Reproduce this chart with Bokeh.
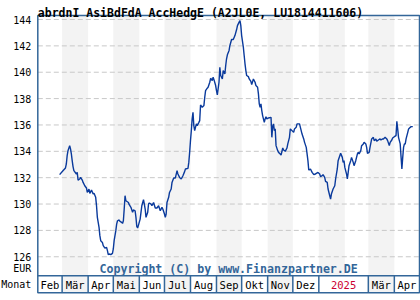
import pandas as pd
from bokeh.plotting import figure
from bokeh.models import Range1d, ColumnDataSource
from bokeh.core.properties import value
from bokeh.embed import file_html
from bokeh.resources import INLINE

title_text = "abrdnI AsiBdFdA AccHedgE (A2JL0E, LU1814411606)"
copyright_text = "Copyright (C) by www.Finanzpartner.DE"
start_date = "2024-02-01"

# calendar days after start_date
days_since_start = [
    26, 30, 33, 34, 35, 36, 38, 39, 40, 41,
    42, 43, 46, 47, 48, 50, 51, 53, 54, 56,
    58, 59, 61, 62, 64, 66, 67, 69, 70, 71,
    72, 73, 74, 75, 77, 78, 80, 82, 83, 84,
    85, 87, 89, 90, 91, 93, 94, 95, 97, 98,
    100, 101, 102, 103, 104, 105, 108, 109, 111, 113,
    114, 116, 117, 118, 119, 120, 122, 123, 124, 126,
    127, 128, 129, 131, 132, 133, 135, 136, 138, 140,
    142, 144, 146, 148, 149, 151, 152, 153, 154, 156,
    157, 159, 160, 162, 164, 166, 167, 169, 171, 173,
    175, 176, 179, 180, 181, 182, 183, 184, 185, 186,
    187, 189, 190, 192, 193, 194, 196, 198, 199, 200,
    202, 203, 205, 206, 208, 209, 210, 212, 213, 214,
    216, 217, 218, 220, 221, 223, 224, 225, 226, 228,
    229, 231, 233, 235, 237, 238, 240, 241, 242, 243,
    245, 246, 247, 248, 249, 251, 252, 254, 255, 257,
    259, 260, 262, 263, 264, 265, 266, 267, 268, 270,
    271, 272, 273, 275, 278, 279, 280, 281, 282, 283,
    284, 286, 287, 289, 290, 292, 293, 295, 297, 298,
    300, 301, 303, 305, 306, 308, 309, 312, 313, 315,
    317, 318, 320, 321, 322, 323, 325, 327, 329, 331,
    332, 334, 336, 337, 339, 340, 342, 343, 345, 346,
    348, 349, 350, 352, 354, 355, 357, 358, 360, 361,
    363, 364, 365, 366, 368, 369, 370, 371, 373, 374,
    376, 377, 379, 381, 382, 383, 385, 386, 388, 389,
    391, 392, 393, 395, 396, 398, 400, 401, 403, 404,
    406, 408, 409, 411, 412, 414, 416, 417, 419, 420,
    422, 423, 425, 427, 428, 429, 430, 432, 433, 434,
    435, 436, 437, 438, 439, 441, 442, 444, 445, 447,
]

price_eur = [
    132.23, 132.53, 132.74, 133.04, 133.67, 134.05, 134.43, 134.18, 133.80, 133.29,
    132.84, 132.53, 132.28, 132.40, 131.82, 131.90, 132.02, 131.82, 131.64, 131.39,
    131.22, 130.88, 131.14, 130.81, 131.06, 130.76, 130.82, 130.51, 129.87, 128.99,
    128.61, 128.23, 127.60, 127.22, 127.09, 126.84, 126.66, 126.71, 126.46, 126.16,
    126.21, 126.16, 126.26, 126.59, 127.22, 127.98, 128.48, 128.73, 128.79, 128.68,
    128.61, 128.53, 128.73, 129.62, 130.63, 130.25, 130.12, 129.95, 129.75, 129.37,
    129.55, 129.49, 128.99, 128.30, 128.18, 128.40, 128.86, 129.37, 129.87, 130.33,
    130.00, 129.62, 128.99, 129.37, 130.00, 130.08, 130.00, 129.87, 130.12, 129.70,
    129.70, 129.87, 129.49, 129.75, 129.62, 129.24, 128.99, 129.24, 130.12, 130.51,
    130.88, 131.14, 131.64, 131.98, 131.98, 132.53, 132.28, 132.02, 131.90, 132.15,
    132.46, 132.66, 132.71, 133.16, 133.92, 134.81, 135.57, 136.46, 136.96, 135.95,
    135.57, 136.08, 135.95, 136.20, 136.33, 137.52, 137.34, 137.47, 138.10, 138.61,
    138.79, 138.86, 139.24, 139.54, 139.37, 139.62, 139.44, 138.99, 138.61, 138.28,
    139.24, 140.38, 139.75, 139.49, 140.12, 139.88, 140.51, 141.02, 141.32, 141.65,
    142.03, 142.48, 142.48, 142.78, 143.24, 143.54, 143.80, 143.92, 143.54, 142.78,
    141.90, 141.27, 140.64, 140.13, 139.75, 139.67, 139.49, 139.31, 139.06, 139.49,
    139.24, 138.99, 138.86, 138.36, 137.60, 137.34, 137.60, 137.09, 136.71, 136.20,
    136.46, 136.63, 136.46, 136.53, 136.58, 135.06, 135.90, 136.08, 135.57, 135.70,
    134.43, 134.05, 133.92, 133.80, 133.72, 134.25, 134.10, 134.00, 134.25, 134.56,
    135.06, 135.70, 135.57, 135.44, 135.70, 135.82, 136.08, 136.08, 135.82, 135.31,
    134.94, 134.68, 134.30, 133.80, 133.29, 132.58, 132.66, 132.40, 132.23, 132.28,
    132.33, 132.40, 132.28, 132.08, 132.15, 132.23, 132.02, 131.72, 131.64, 131.14,
    130.63, 130.38, 130.76, 131.14, 131.39, 131.90, 132.66, 133.29, 133.67, 133.85,
    133.54, 133.16, 133.29, 132.78, 132.28, 131.90, 132.40, 132.91, 133.29, 133.54,
    133.16, 132.91, 133.29, 133.80, 133.92, 133.80, 134.05, 134.43, 134.56, 134.68,
    134.56, 134.30, 133.85, 133.92, 134.30, 134.94, 135.06, 134.81, 134.94, 134.76,
    134.86, 134.94, 134.86, 134.94, 134.94, 135.06, 134.94, 134.81, 134.43, 134.68,
    134.86, 135.01, 135.11, 135.19, 136.28, 135.70, 135.06, 134.56, 133.60, 132.66,
    133.54, 134.30, 134.56, 134.56, 134.94, 135.44, 135.70, 135.82, 135.87, 135.87,
]

y_ticks = [126, 128, 130, 132, 134, 136, 138, 140, 142, 144]
unit_label = "EUR"
row_label = "Monat"

month_labels = ["Feb", "Mär", "Apr", "Mai", "Jun", "Jul", "Aug", "Sep",
                "Okt", "Nov", "Dez", "2025", "Mär", "Apr"]
month_starts = ["2024-02-01", "2024-03-01", "2024-04-01", "2024-05-01",
                "2024-06-01", "2024-07-01", "2024-08-01", "2024-09-01",
                "2024-10-01", "2024-11-01", "2024-12-01", "2025-01-01",
                "2025-03-01", "2025-04-01"]
month_ends = ["2024-03-01", "2024-04-01", "2024-05-01", "2024-06-01",
              "2024-07-01", "2024-08-01", "2024-09-01", "2024-10-01",
              "2024-11-01", "2024-12-01", "2025-01-01", "2025-03-01",
              "2025-04-01", "2025-05-01"]
month_label_colors = ["black"] * 11 + ["#cc0033", "black", "black"]
row_cell_shaded = [False, True, False, True, False, True, False, True,
                   False, True, False, False, True, False]
band_starts = ["2024-03-01", "2024-05-01", "2024-07-01", "2024-09-01",
               "2024-11-01", "2025-01-01", "2025-03-01"]
band_ends = ["2024-04-01", "2024-06-01", "2024-08-01", "2024-10-01",
             "2024-12-01", "2025-02-01", "2025-04-01"]

DAY_MS = 86400000.0


def ms(s):
    return pd.Timestamp(s).value / 1e6


BLUE = "#336699"
LINE = "#0a3a9c"
SHADE = "#f3f3f3"
MONO = "DejaVu Sans Mono"

W, H = 420, 300
# chart box in canvas pixels (left, right, top, bottom)
PX_L, PX_R, PX_T, PX_B = 37.3, 419.0, 15.0, 292.3

x_lo, x_hi = ms("2024-02-01"), ms("2025-05-01")
y_lo, y_hi = 123.266, 144.304
kx = (x_hi - x_lo) / (PX_R - PX_L)
ky = (y_hi - y_lo) / (PX_B - PX_T)


def ypx(py):
    return y_hi - (py - PX_T) * ky


row_top = ypx(275.3)
row_mid = ypx(284.0)

p = figure(width=W, height=H, output_backend="svg", toolbar_location=None,
           x_range=Range1d(x_lo - PX_L * kx, x_hi + (W - PX_R) * kx),
           y_range=Range1d(y_lo - (H - PX_B) * ky, y_hi + PX_T * ky),
           x_axis_location=None, y_axis_location=None,
           min_border=0)
p.background_fill_color = "white"
p.border_fill_color = "white"
p.outline_line_color = None
p.xgrid.visible = False
p.ygrid.visible = False

# shaded month bands in the chart area
p.quad(left=[ms(s) for s in band_starts], right=[ms(s) for s in band_ends],
       bottom=row_top, top=y_hi, fill_color=SHADE, line_color=None)

# dashed grid lines
p.segment(x0=[x_lo] * len(y_ticks), y0=y_ticks, x1=[x_hi] * len(y_ticks),
          y1=y_ticks, line_color="#c8c8c8", line_width=1, line_dash="5 3")

# month row
cells_l = [ms(s) for s, sh in zip(month_starts, row_cell_shaded) if sh]
cells_r = [ms(e) for e, sh in zip(month_ends, row_cell_shaded) if sh]
p.quad(left=cells_l, right=cells_r, bottom=y_lo, top=row_top,
       fill_color=SHADE, line_color=None)

# price line
xs = [ms(start_date) + d * DAY_MS for d in days_since_start]
p.line(xs, price_eur, line_color=LINE, line_width=1.4)

# box and row lines
p.quad(left=[x_lo], right=[x_hi], bottom=[y_lo], top=[y_hi],
       fill_color=None, line_color=BLUE, line_width=1.5)
p.segment(x0=[x_lo], y0=[row_top], x1=[x_hi], y1=[row_top],
          line_color=BLUE, line_width=1.5)
sep = [ms(s) for s in month_starts[1:]]
p.segment(x0=sep, y0=[y_lo] * len(sep), x1=sep, y1=[row_top] * len(sep),
          line_color=BLUE, line_width=1.5)

centers = [(ms(s) + ms(e)) / 2 for s, e in zip(month_starts, month_ends)]
msrc = ColumnDataSource(dict(x=centers, y=[row_mid] * len(centers),
                             text=month_labels, color=month_label_colors))
p.text(x="x", y="y", text="text", text_color="color", source=msrc,
       text_align="center", text_baseline="middle",
       text_font=value(MONO), text_font_size="10.5px")

# y labels
ysrc = ColumnDataSource(dict(
    x=[x_lo] * (len(y_ticks) + 2),
    y=y_ticks + [ypx(267.7), row_mid],
    text=[str(t) for t in y_ticks] + [unit_label, row_label]))
p.text(x="x", y="y", text="text", source=ysrc, x_offset=-6.5,
       text_align="right", text_baseline="middle",
       text_font=value(MONO), text_font_size="10px", text_color="black")

# title
p.text(x=[x_lo], y=[ypx(12.0)], text=[title_text], text_align="left",
       text_baseline="alphabetic", text_font=value(MONO),
       text_font_size="11.5px", text_font_style="bold", text_color="black")

# copyright
p.text(x=[(x_lo + x_hi) / 2], y=[ypx(268.3)], text=[copyright_text],
       text_align="center", text_baseline="middle", text_font=value(MONO),
       text_font_size="11.6px", text_font_style="bold", text_color=BLUE)

open("out.html", "w").write(file_html(p, INLINE))
